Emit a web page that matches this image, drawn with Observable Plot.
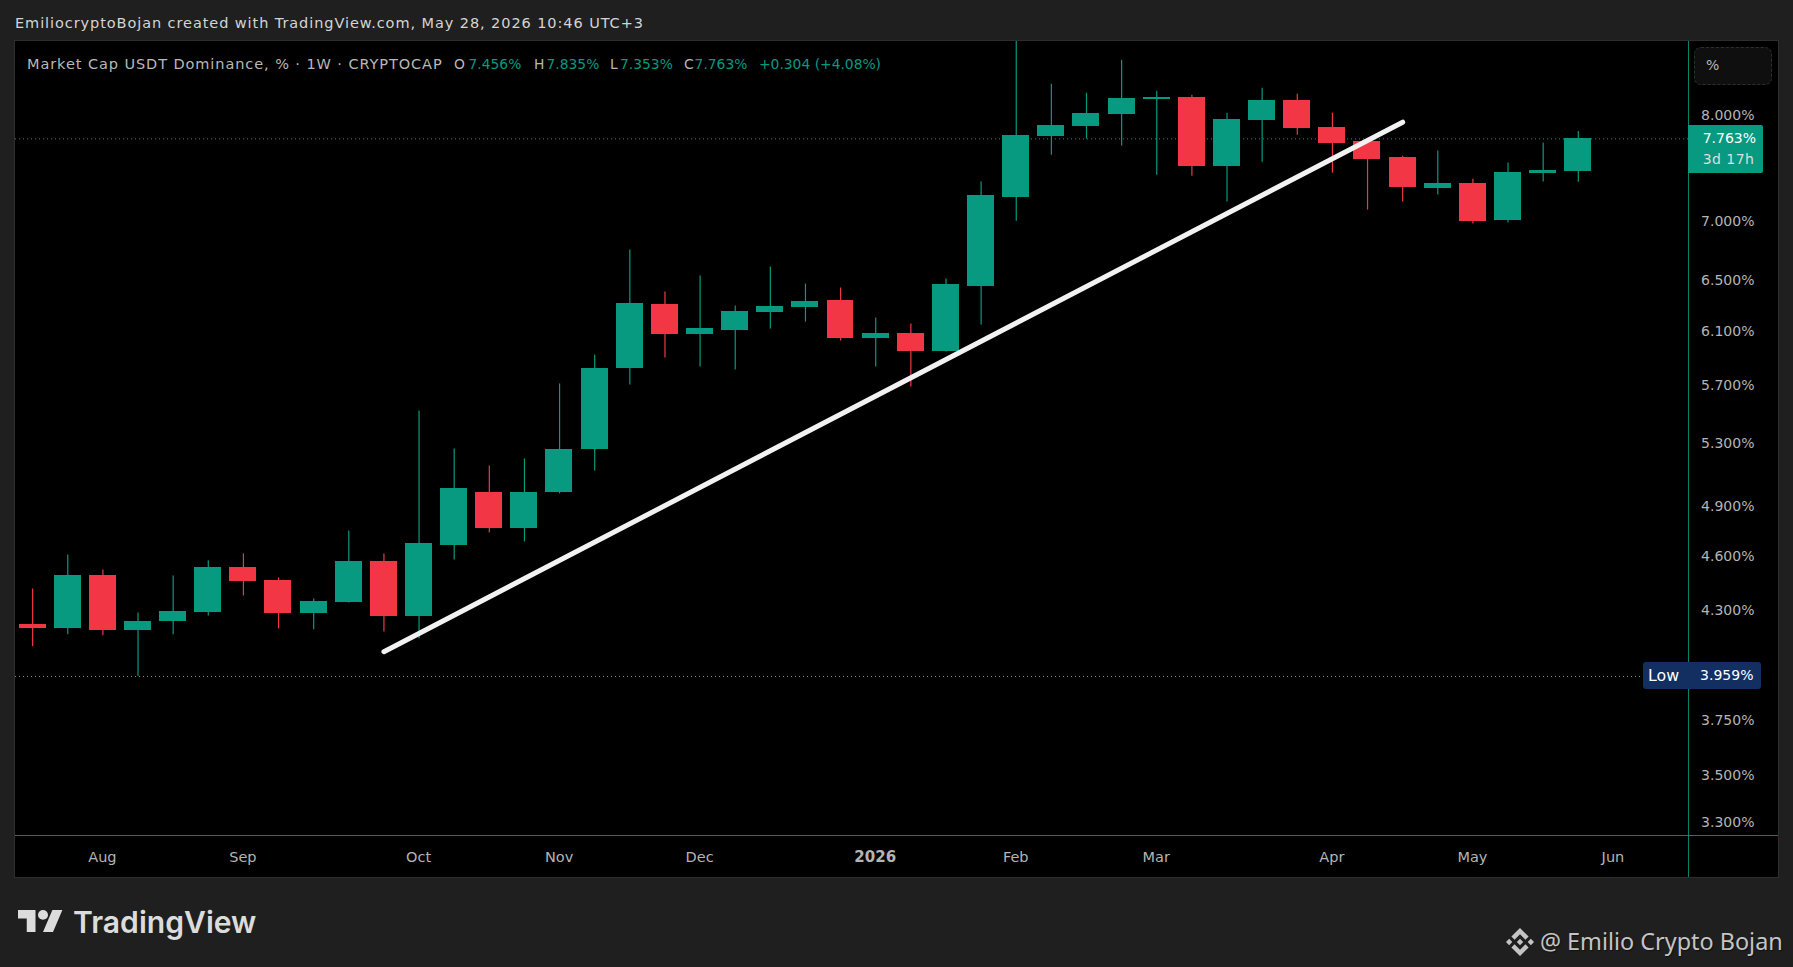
<!doctype html>
<html><head><meta charset="utf-8">
<script src="https://cdn.jsdelivr.net/npm/d3@7"></script>
<script src="https://cdn.jsdelivr.net/npm/@observablehq/plot@0.6"></script>
<style>
html,body{margin:0;padding:0;background:#1f1f1f;}
#page{position:relative;width:1793px;height:967px;overflow:hidden;background:#1f1f1f;font-family:"DejaVu Sans",sans-serif;}
#top{position:absolute;left:15px;top:14px;font-size:14.5px;letter-spacing:.92px;line-height:18px;color:#d4d4d4;white-space:pre;}
#chart{position:absolute;left:15px;top:41px;width:1763px;height:836px;background:#000;outline:1.5px solid #2e2e2e;}
#chart svg{display:block;}
#legend{position:absolute;left:12px;top:14px;height:18px;line-height:18px;color:#b8b8b8;white-space:pre;}
#legend span{position:absolute;top:0;font-size:13.85px;}
#legend span.name{left:0;font-size:14.5px;letter-spacing:.92px;}
#legend b{font-weight:400;color:#089981;}
#legend i{font-style:normal;display:inline-block;}
#unit{position:absolute;left:1679px;top:5.5px;width:78px;height:38px;box-sizing:border-box;background:#0f0f0f;border:1.5px dashed #2e2e2e;border-radius:7px;color:#b8b8b8;font-size:14px;line-height:35px;padding-left:11px;}
#price{position:absolute;left:1673px;width:75px;height:48px;background:#089981;color:#fff;font-size:14px;line-height:21.5px;text-align:left;padding:3px 0 0 14.7px;box-sizing:border-box;border-radius:0 2px 2px 0;}
#price span{color:#dedede;letter-spacing:.45px;}
#low{position:absolute;left:1628px;width:118px;height:27px;background:#132f62;color:#fff;font-size:14px;line-height:27px;border-radius:3px;box-sizing:border-box;padding:0 7.5px 0 5px;display:flex;justify-content:space-between;}
#low .t{font-size:15.8px;}
#logo{position:absolute;left:18px;top:910px;}
#brand{position:absolute;left:73px;top:902px;font:600 30.1px/40px Inter,sans-serif;color:#dcdcdc;}
#mark{position:absolute;left:1506px;top:928px;}
#wm{position:absolute;left:1540px;top:924px;font:23.4px/34px "Noto Sans",sans-serif;color:#c4c4c4;text-shadow:1px 1px 1px #111;white-space:pre;}
</style></head>
<body><div id="page">
<div id="top">EmiliocryptoBojan created with TradingView.com, May 28, 2026 10:46 UTC+3</div>
<div id="chart">
<div id="legend"><span class="name">Market Cap USDT Dominance, % · 1W · CRYPTOCAP</span><span style="left:427px"><i style="width:14.5px">O</i><b>7.456%</b></span><span style="left:507px"><i style="width:12.5px">H</i><b>7.835%</b></span><span style="left:583px"><i style="width:10px">L</i><b>7.353%</b></span><span style="left:657px"><i style="width:10.6px">C</i><b>7.763%</b></span><span style="left:732px"><b>+0.304 (+4.08%)</b></span></div>
<div id="unit">%</div>
<div id="low"><span class="t">Low</span><span id="lowv"></span></div>
<div id="price"><div id="pv"></div><span>3d 17h</span></div>
</div>
<svg id="logo" width="45" height="22" viewBox="0 4 36 18" preserveAspectRatio="none"><path fill="#dcdcdc" d="M14 22H7V11H0V4h14v18zM28 22h-8l7.5-18h8L28 22z"/><circle fill="#dcdcdc" cx="20" cy="8" r="4"/></svg>
<div id="brand">TradingView</div>
<svg id="mark" width="28" height="28" viewBox="0 0 126.61 126.61"><path fill="#c4c4c4" d="M38.73 53.2l24.59-24.58 24.6 24.6 14.3-14.31L63.32 0 24.42 38.9zM0 63.31l14.3-14.31 14.31 14.31-14.31 14.3zM38.73 73.41l24.59 24.59 24.6-24.6 14.31 14.29-38.9 38.91-38.91-38.88zM98 63.31l14.3-14.31 14.31 14.3-14.31 14.32zM77.83 63.3L63.32 48.78 52.59 59.51l-1.24 1.23-2.54 2.54 14.51 14.5 14.51-14.47z"/></svg>
<div id="wm">@ Emilio Crypto Bojan</div>
</div>
<script>
const firstWeek = "2025-07-21";
const opens = [4.223,4.202,4.490,4.192,4.239,4.287,4.536,4.462,4.282,4.341,4.570,4.266,4.662,4.988,4.763,4.982,5.258,5.819,6.312,6.079,6.110,6.249,6.288,6.344,6.049,6.087,5.951,6.456,7.217,7.789,7.888,8.007,8.159,8.179,7.502,7.947,8.149,7.878,7.741,7.587,7.299,7.344,7.012,7.437,7.456];
const highs = [4.418,4.610,4.524,4.287,4.490,4.576,4.616,4.479,4.363,4.751,4.616,5.521,5.264,5.153,5.199,5.711,5.922,6.754,6.408,6.537,6.296,6.611,6.472,6.440,6.202,6.156,6.513,7.354,8.770,8.313,8.220,8.567,8.241,8.200,8.017,8.272,8.210,8.017,7.760,7.597,7.645,7.381,7.531,7.722,7.835];
const lows = [4.109,4.171,4.166,3.959,4.171,4.271,4.379,4.202,4.197,4.341,4.186,4.150,4.581,4.739,4.686,4.976,5.121,5.703,5.899,5.833,5.811,6.118,6.171,6.026,5.833,5.689,5.944,6.148,7.003,7.606,7.760,7.693,7.418,7.409,7.172,7.540,7.799,7.437,7.100,7.172,7.235,6.977,6.986,7.354,7.353];
const closes = [4.202,4.490,4.192,4.239,4.293,4.536,4.457,4.282,4.347,4.570,4.266,4.674,5.007,4.763,4.988,5.264,5.826,6.320,6.079,6.118,6.257,6.296,6.336,6.049,6.087,5.951,6.472,7.235,7.799,7.898,8.017,8.169,8.179,7.502,7.957,8.149,7.868,7.722,7.568,7.308,7.344,7.003,7.446,7.465,7.763];
const lastClose = 7.763;
const allTimeLow = 3.959;
const trendDates = ["2025-09-29","2026-04-20"];
const trendValues = [4.084,7.927];
const priceTicks = [8,7,6.5,6.1,5.7,5.3,4.9,4.6,4.3,4,3.75,3.5,3.3];
const monthTicks = ["2025-08-04","2025-09-01","2025-10-06","2025-11-03","2025-12-01","2026-02-02","2026-03-02","2026-04-06","2026-05-04","2026-06-01"];
const monthLabels = ["Aug","Sep","Oct","Nov","Dec","Feb","Mar","Apr","May","Jun"];
const yearTick = "2026-01-05";
const yearLabel = "2026";
const xDomain = ["2025-07-17T14:00Z","2026-06-15T23:00Z"];
const yDomain = [3.244,8.770];
const teal = "#089981", red = "#f23645";

const start = new Date(firstWeek + "T00:00Z");
const candles = opens.map((o,i)=>({
  date: d3.utcDay.offset(start, i*7), open:o, high:highs[i], low:lows[i], close:closes[i],
  color: closes[i] >= o ? teal : red
}));
const D = s => new Date(s.length===10 ? s+"T00:00Z" : s);
const halfBody = 64.6; // hours either side of the week's date
const labelOf = new Map(monthTicks.map((t,i)=>[+D(t),monthLabels[i]]));
const axisFont = {fill:"#b4b4b4"};

const plot = Plot.plot({
  width:1763, height:836, marginLeft:0, marginRight:90, marginTop:0, marginBottom:42,
  style:{background:"#000", fontFamily:"DejaVu Sans, sans-serif", overflow:"visible"},
  x:{type:"utc", domain:xDomain.map(D), label:null},
  y:{type:"log", domain:yDomain, label:null},
  marks:[
    Plot.ruleY([lastClose],{stroke:teal, strokeDasharray:"1 3", strokeWidth:1}),
    Plot.ruleY([allTimeLow],{stroke:"#8a8a8a", strokeDasharray:"1 3", strokeWidth:1}),
    Plot.ruleX(candles,{x:"date", y1:"low", y2:"high", stroke:"color", strokeWidth:1.2}),
    Plot.rectY(candles,{x1:d=>d3.utcHour.offset(d.date,-halfBody), x2:d=>d3.utcHour.offset(d.date,halfBody),
      y1:"open", y2:"close", fill:"color", shapeRendering:"crispEdges"}),
    Plot.line(trendDates.map((t,i)=>({t:D(t),v:trendValues[i]})),{x:"t", y:"v", stroke:"#f2f2f2", strokeWidth:5, strokeLinecap:"round"}),
    Plot.ruleY([yDomain[0]],{stroke:teal, strokeOpacity:.85, strokeWidth:1, insetRight:-90}),
    Plot.ruleX([D(xDomain[1])],{stroke:teal, strokeOpacity:.85, strokeWidth:1, insetBottom:-42}),
    Plot.axisY({anchor:"right", ticks:priceTicks, tickSize:0, tickPadding:66, textAnchor:"end", dy:0.3, tickFormat:d=>d.toFixed(3)+"%", fontSize:14, ...axisFont, label:null}),
    Plot.axisX({ticks:monthTicks.map(D), tickSize:0, tickPadding:16, dx:-0.5, tickFormat:d=>labelOf.get(+d), fontSize:14.5, ...axisFont, label:null}),
    Plot.axisX({ticks:[D(yearTick)], tickSize:0, tickPadding:16, dx:-0.5, tickFormat:()=>yearLabel, fontSize:15, ...axisFont, fontWeight:"bold", label:null})
  ]
});
const chart = document.getElementById("chart");
chart.prepend(plot);
const y = plot.scale("y");
const price = document.getElementById("price");
document.getElementById("pv").textContent = lastClose.toFixed(3)+"%";
price.style.top = (y.apply(lastClose)-13.5)+"px";
const low = document.getElementById("low");
document.getElementById("lowv").textContent = allTimeLow.toFixed(3)+"%";
low.style.top = (y.apply(allTimeLow)-13.5)+"px";
</script>
</body></html>
